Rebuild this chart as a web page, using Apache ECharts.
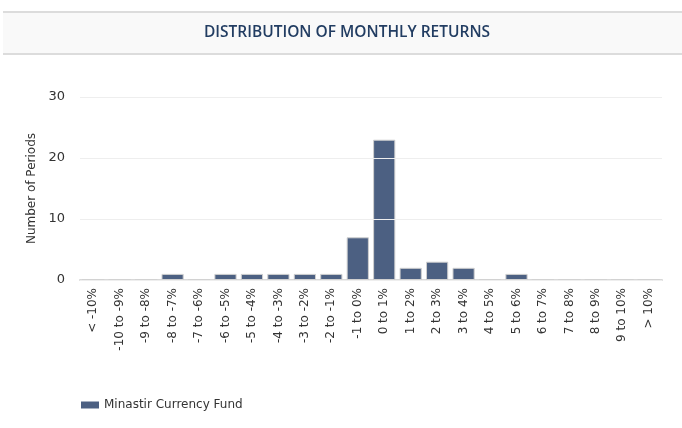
<!DOCTYPE html>
<html>
<head>
<meta charset="utf-8">
<script src="https://cdn.jsdelivr.net/npm/echarts@6/dist/echarts.min.js"></script>
<style>
  html, body { margin: 0; padding: 0; background: #fff; }
  #main { width: 682px; height: 428px; }
</style>
</head>
<body>
<div id="main"></div>
<script>
// 收益区间
var buckets = ['< -10%', '-10 to -9%', '-9 to -8%', '-8 to -7%', '-7 to -6%', '-6 to -5%',
    '-5 to -4%', '-4 to -3%', '-3 to -2%', '-2 to -1%', '-1 to 0%', '0 to 1%', '1 to 2%',
    '2 to 3%', '3 to 4%', '4 to 5%', '5 to 6%', '6 to 7%', '7 to 8%', '8 to 9%',
    '9 to 10%', '> 10%']
// 每个区间的月数
var periods = [0, 0, 0, 1, 0, 1, 1, 1, 1, 1, 7, 23, 2, 3, 2, 0, 1, 0, 0, 0, 0, 0]
var seriesName = 'Minastir Currency Fund'
var yTicks = [0, 10, 20, 30]

var font = '"DejaVu Sans", sans-serif'
var myChart = echarts.init(document.querySelector('#main'))

var option = {
    animation: false,
    graphic: [
        {
            type: 'rect',
            shape: { x: 3, y: 12, width: 682, height: 42 },
            style: { fill: '#f9f9f9', stroke: 'none' }
        },
        {
            type: 'rect',
            shape: { x: 3, y: 11, width: 682, height: 2 },
            style: { fill: '#dcdcdc' }
        },
        {
            type: 'rect',
            shape: { x: 3, y: 53, width: 682, height: 2 },
            style: { fill: '#dcdcdc' }
        },
        {
            type: 'text',
            x: 347,
            y: 33,
            style: {
                text: 'DISTRIBUTION OF MONTHLY RETURNS',
                fill: '#223d62',
                font: '600 15.5px "Open Sans", sans-serif',
                textAlign: 'center',
                textVerticalAlign: 'middle'
            }
        }
    ],
    legend: {
        left: 76,
        top: 394,
        itemWidth: 18,
        itemHeight: 7,
        itemGap: 4,
        icon: 'rect',
        itemStyle: { borderWidth: 0 },
        textStyle: { color: '#333', fontSize: 12, fontFamily: font },
        data: [seriesName]
    },
    grid: {
        left: 80,
        right: 20,
        top: 97,
        bottom: 148
    },
    xAxis: {
        type: 'category',
        data: buckets,
        axisLine: { lineStyle: { color: '#d8d8d8', width: 2 } },
        axisTick: { alignWithLabel: true, length: 6, lineStyle: { color: '#d0d0d0' } },
        axisLabel: {
            rotate: 90,
            interval: 0,
            margin: 8,
            color: '#333',
            fontSize: 12,
            fontFamily: font
        }
    },
    yAxis: {
        type: 'value',
        z: 3,
        min: yTicks[0],
        max: yTicks[yTicks.length - 1],
        interval: 10,
        name: 'Number of Periods',
        nameLocation: 'middle',
        nameGap: 40,
        nameTextStyle: { color: '#333', fontSize: 12, fontFamily: font },
        axisLine: { show: false },
        axisTick: { show: false },
        axisLabel: { color: '#333', fontSize: 13, fontFamily: font, margin: 15 },
        splitLine: { lineStyle: { color: '#eeeeee', width: 1 } }
    },
    series: [
        {
            name: seriesName,
            type: 'bar',
            data: periods,
            barCategoryGap: '16%',
            itemStyle: {
                color: '#4c6082',
                borderColor: '#d0d0d0',
                borderWidth: 1
            }
        }
    ]
}

myChart.setOption(option)
</script>
</body>
</html>
